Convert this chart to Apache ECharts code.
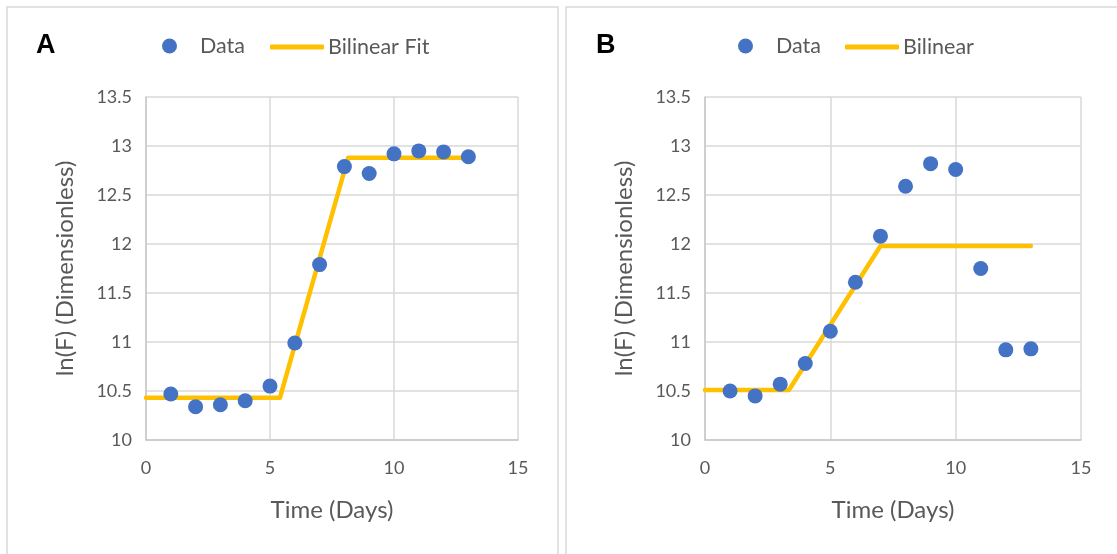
<!DOCTYPE html>
<html>
<head>
<meta charset="utf-8">
<script src="https://cdn.jsdelivr.net/npm/echarts@6/dist/echarts.min.js"></script>
<style>
  html, body { margin: 0; padding: 0; background: #ffffff; }
  #chart { width: 1117px; height: 554px; }
</style>
</head>
<body>
<div id="chart"></div>
<script>
// Sampling days
const days = [1, 2, 3, 4, 5, 6, 7, 8, 9, 10, 11, 12, 13];

// Panel A: measured ln(F) and its bilinear fit
const dataA = [10.47, 10.34, 10.36, 10.40, 10.55, 10.99, 11.79, 12.79, 12.72, 12.92, 12.95, 12.94, 12.89];
const fitAx = [0, 5.4, 8.15, 13];
const fitAy = [10.43, 10.43, 12.88, 12.88];

// Panel B: measured ln(F) and its bilinear fit
const dataB = [10.50, 10.45, 10.57, 10.78, 11.11, 11.61, 12.08, 12.59, 12.82, 12.76, 11.75, 10.92, 10.93];
const fitBx = [0, 3.35, 7.0, 13];
const fitBy = [10.51, 10.51, 11.98, 11.98];

// Axis ranges
const xTicks = { min: 0, max: 15, interval: 5 };
const yTicks = { min: 10, max: 13.5, interval: 0.5 };

const FONT = 'Lato';
const TEXT = '#595959';
const GRID = '#d9d9d9';
const BLUE = '#4472c4';
const GOLD = '#ffc000';

const zip = (xs, ys) => xs.map((x, i) => [x, ys[i]]);

function xAxis(gridIndex) {
  return {
    type: 'value', gridIndex,
    min: xTicks.min, max: xTicks.max, interval: xTicks.interval,
    name: 'Time (Days)', nameLocation: 'middle', nameGap: 58,
    nameTextStyle: { fontFamily: FONT, fontSize: 24, color: TEXT },
    axisLine: { show: true, lineStyle: { color: '#c8c8c8', width: 1.5 } },
    axisTick: { show: false },
    axisLabel: { fontFamily: FONT, fontSize: 18, color: TEXT, margin: 19 },
    splitLine: { show: true, lineStyle: { color: GRID, width: 1.5 } }
  };
}

function yAxis(gridIndex) {
  return {
    type: 'value', gridIndex,
    min: yTicks.min, max: yTicks.max, interval: yTicks.interval,
    name: 'ln(F) (Dimensionless)', nameLocation: 'middle', nameGap: 69,
    nameTextStyle: { fontFamily: FONT, fontSize: 24, color: TEXT },
    axisLine: { show: true, lineStyle: { color: '#c8c8c8', width: 1.5 } },
    axisTick: { show: false },
    axisLabel: { fontFamily: FONT, fontSize: 18, color: TEXT, margin: 14 },
    splitLine: { show: true, lineStyle: { color: GRID, width: 1.5 } }
  };
}

function scatter(name, idx, vals) {
  return {
    name, type: 'scatter', xAxisIndex: idx, yAxisIndex: idx,
    data: zip(days, vals), symbol: 'circle', symbolSize: 15,
    itemStyle: { color: BLUE, opacity: 1 }, z: 3
  };
}

function fitLine(name, idx, xs, ys) {
  return {
    name, type: 'line', xAxisIndex: idx, yAxisIndex: idx,
    data: zip(xs, ys), showSymbol: false, symbol: 'none',
    lineStyle: { color: GOLD, width: 4.5, cap: 'round', join: 'round' },
    itemStyle: { color: GOLD }, z: 2
  };
}

function legendDot(left, name) {
  return {
    left, top: 30, data: [name], icon: 'circle', itemWidth: 15, itemHeight: 15,
    selectedMode: false,
    itemStyle: { opacity: 1 },
    textStyle: { fontFamily: FONT, fontSize: 21.5, color: TEXT, padding: [0, 0, 0, 18] }
  };
}

function legendLine(left, name) {
  return {
    left, top: 31, data: [name], icon: 'roundRect', itemWidth: 54, itemHeight: 5,
    selectedMode: false,
    textStyle: { fontFamily: FONT, fontSize: 21.5, color: TEXT, padding: [0, 0, 0, -1] }
  };
}

const chart = echarts.init(document.getElementById('chart'), null, { renderer: 'canvas' });

chart.setOption({
  animation: false,
  backgroundColor: '#ffffff',
  graphic: [
    { type: 'rect', shape: { x: 7, y: 7, width: 551, height: 600 },
      style: { fill: 'none', stroke: GRID, lineWidth: 1.5 }, silent: true },
    { type: 'rect', shape: { x: 566, y: 7, width: 560, height: 600 },
      style: { fill: 'none', stroke: GRID, lineWidth: 1.5 }, silent: true },
    { type: 'text', left: 36, top: 32,
      style: { text: 'A', font: 'bold 27px "Liberation Sans"', fill: '#000000' } },
    { type: 'text', left: 596, top: 32,
      style: { text: 'B', font: 'bold 27px "Liberation Sans"', fill: '#000000' } }
  ],
  legend: [
    legendDot(157, 'Data'),
    legendLine(265, 'Bilinear Fit'),
    legendDot(733, 'Data '),
    legendLine(840, 'Bilinear')
  ],
  grid: [
    { left: 146, top: 97, width: 372, height: 343 },
    { left: 705, top: 97, width: 376, height: 343 }
  ],
  xAxis: [xAxis(0), xAxis(1)],
  yAxis: [yAxis(0), yAxis(1)],
  series: [
    fitLine('Bilinear Fit', 0, fitAx, fitAy),
    scatter('Data', 0, dataA),
    fitLine('Bilinear', 1, fitBx, fitBy),
    scatter('Data ', 1, dataB)
  ]
});
</script>
</body>
</html>
